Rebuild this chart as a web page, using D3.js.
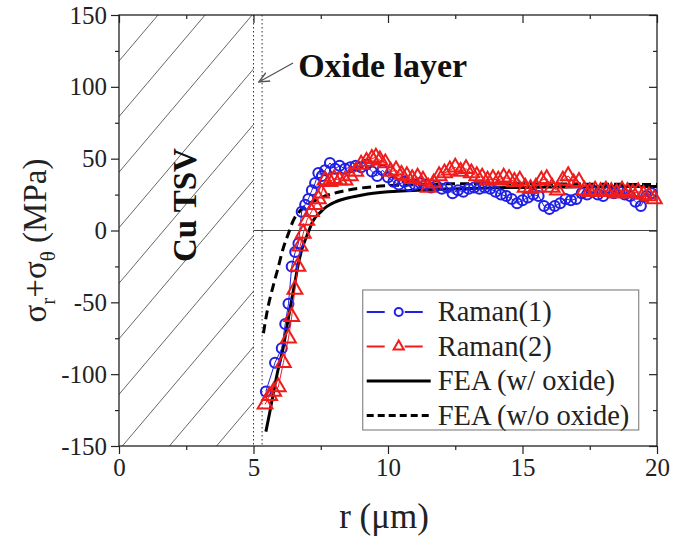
<!DOCTYPE html>
<html>
<head>
<meta charset="utf-8">
<script src="https://cdn.jsdelivr.net/npm/d3@7"></script>
<style>
  body { margin: 0; background: #fff; }
  svg text { font-family: 'Liberation Serif', 'Times New Roman', serif; }
</style>
</head>
<body>
<svg id="chart" width="679" height="537"></svg>
<script>
// Raman(1) measurement (blue circles)
const raman1R = [5.46, 5.8, 6.05, 6.18, 6.3, 6.42, 6.55, 6.67, 6.79, 6.92, 7.04, 7.17, 7.29, 7.41, 7.54, 7.66, 7.84, 8.03, 8.2, 8.4, 8.6, 8.8, 9.0, 9.2, 9.4, 9.6, 9.8, 10.0, 10.2, 10.4, 10.6, 10.8, 11.0, 11.2, 11.4, 11.6, 11.8, 12.0, 12.2, 12.4, 12.6, 12.8, 13.0, 13.2, 13.4, 13.6, 13.8, 14.0, 14.2, 14.4, 14.6, 14.8, 15.0, 15.2, 15.4, 15.6, 15.8, 16.0, 16.2, 16.4, 16.6, 16.8, 17.0, 17.2, 17.4, 17.6, 17.8, 18.0, 18.2, 18.4, 18.6, 18.8, 19.0, 19.2, 19.4, 19.6, 19.8];
const raman1V = [-112, -92, -82, -65, -51, -25, -15, -9, 13, 18, 22, 28, 33, 40, 38, 42, 47, 43, 45, 43, 44, 45, 44, 46, 41, 38, 42, 37, 34, 32, 34, 31, 32, 33, 32, 30, 31, 29, 30, 26, 28, 27, 29, 30, 29, 30, 29, 27, 25, 24, 22, 19, 21, 23, 25, 24, 17, 15, 17, 19, 22, 21, 22, 26, 25, 27, 25, 24, 27, 26, 27, 25, 24, 20, 17, 24, 26];

// Raman(2) measurement (red triangles)
const raman2R = [5.43, 5.6, 5.75, 5.92, 6.11, 6.3, 6.42, 6.54, 6.65, 6.73, 6.85, 6.98, 7.15, 7.29, 7.41, 7.53, 7.66, 7.84, 8.0, 8.2, 8.4, 8.6, 8.8, 9.0, 9.2, 9.4, 9.55, 9.7, 9.9, 10.1, 10.3, 10.5, 10.7, 10.9, 11.1, 11.3, 11.5, 11.7, 11.9, 12.1, 12.3, 12.5, 12.7, 12.9, 13.1, 13.3, 13.5, 13.7, 13.9, 14.1, 14.3, 14.5, 14.7, 14.9, 15.1, 15.3, 15.5, 15.7, 15.9, 16.1, 16.3, 16.5, 16.7, 16.9, 17.1, 17.3, 17.5, 17.7, 17.9, 18.1, 18.3, 18.5, 18.7, 18.9, 19.1, 19.3, 19.5, 19.7, 19.9];
const raman2V = [-121, -115, -112, -109, -92, -75, -60, -41, -25, -11, -2, 7, 13, 18, 22, 26, 35, 34, 36, 35, 35, 38, 41, 46, 48, 50, 51, 49, 47, 41, 42, 39, 38, 36, 37, 35, 30, 33, 38, 40, 42, 44, 41, 43, 40, 38, 37, 35, 36, 35, 37, 36, 34, 35, 30, 29, 30, 35, 36, 30, 28, 35, 38, 33, 34, 28, 27, 28, 27, 28, 27, 26, 28, 27, 26, 27, 25, 24, 22];

// FEA with oxide (solid)
const feaOxR = [5.46, 5.6, 5.74, 5.9, 6.11, 6.25, 6.42, 6.55, 6.67, 6.8, 7.0, 7.22, 7.5, 7.72, 8.0, 8.46, 9.0, 9.45, 10.0, 10.7, 11.93, 13, 14, 15, 16, 17, 18, 19, 20];
const feaOxV = [-140, -127, -113, -98, -81, -66, -48, -35, -23, -13, -3, 7, 13, 16.6, 19.5, 22.4, 24.5, 25.9, 27, 27.7, 28.7, 29.3, 29.7, 30, 30.2, 30.4, 30.5, 30.6, 30.7];

// FEA without oxide (dashed)
const feaNoR = [5.37, 5.5, 5.74, 5.9, 6.11, 6.3, 6.48, 6.7, 6.98, 7.3, 7.6, 8.22, 9.45, 10.7, 11.93, 13, 14, 15, 16, 17, 18, 19, 20];
const feaNoV = [-71.5, -57, -38, -27, -12, -2, 7, 13, 17.7, 21, 23.5, 27, 30.5, 31.7, 32.4, 32.6, 32.6, 32.5, 32.4, 32.3, 32.2, 32.1, 32];

const xTicks = [0, 5, 10, 15, 20];
const yTicks = [-150, -100, -50, 0, 50, 100, 150];
const legendLabels = ['Raman(1)', 'Raman(2)', 'FEA (w/ oxide)', 'FEA (w/o oxide)'];

const margin = { top: 15, left: 119 };
const width = 538;
const height = 431;
const blue = '#1f1fe6';
const red = '#f01c1c';
const serif = "'Liberation Serif', 'Times New Roman', serif";

const svg = d3.select('#chart');
const chart = svg.append('g').attr('transform', `translate(${margin.left},${margin.top})`);

const x = d3.scaleLinear().domain([0, 20]).range([0, width]);
const y = d3.scaleLinear().domain([-150, 150]).range([height, 0]);

// Hatched Cu TSV region
chart.append('clipPath').attr('id', 'cu').append('rect')
  .attr('x', x(0)).attr('y', y(150)).attr('width', x(5) - x(0)).attr('height', y(-150) - y(150));
const hatchSlope = 22.1; // MPa per um
chart.append('g').attr('clip-path', 'url(#cu)')
  .selectAll('line')
  .data(d3.range(-1, 11).map((k) => 1.45 + k * 1.75))
  .join('line')
  .attr('x1', (r0) => x(r0)).attr('y1', y(150))
  .attr('x2', (r0) => x(r0 - 300 / hatchSlope)).attr('y2', y(-150))
  .attr('stroke', '#555').attr('stroke-width', 0.9);

// Oxide layer boundaries
chart.selectAll('.oxide')
  .data([5, 5.32])
  .join('line')
  .attr('x1', (d) => x(d)).attr('x2', (d) => x(d))
  .attr('y1', 0).attr('y2', height)
  .attr('stroke', '#333').attr('stroke-width', 1).attr('stroke-dasharray', '1.5,2.5');

// zero line
chart.append('line')
  .attr('x1', x(5)).attr('x2', width).attr('y1', y(0)).attr('y2', y(0))
  .attr('stroke', '#444').attr('stroke-width', 1);

// Axes
const styleAxis = (g) => {
  g.select('.domain').remove();
  g.selectAll('.tick line').attr('stroke', '#222').attr('stroke-width', 1.2);
  g.selectAll('text').attr('font-family', serif).attr('font-size', 25).attr('fill', '#222');
};
const minorX = d3.range(2.5, 20, 5);
const minorY = d3.range(-125, 150, 50);
const fmt = (d) => String(d);

chart.append('g').attr('transform', `translate(0,${height})`)
  .call(d3.axisBottom(x).tickValues(xTicks).tickSize(8).tickPadding(4).tickFormat(fmt))
  .call(styleAxis);
chart.append('g').attr('transform', `translate(0,${height})`)
  .call(d3.axisBottom(x).tickValues(minorX).tickSize(4).tickFormat(''))
  .call(styleAxis);
chart.append('g')
  .call(d3.axisLeft(y).tickValues(yTicks).tickSize(8).tickPadding(4).tickFormat(fmt))
  .call(styleAxis);
chart.append('g')
  .call(d3.axisLeft(y).tickValues(minorY).tickSize(4).tickFormat(''))
  .call(styleAxis);
// mirrored inward ticks on top/right
chart.append('g')
  .call(d3.axisBottom(x).tickValues(xTicks).tickSize(8).tickFormat(''))
  .call(styleAxis);
chart.append('g')
  .call(d3.axisBottom(x).tickValues(minorX).tickSize(4).tickFormat(''))
  .call(styleAxis);
chart.append('g').attr('transform', `translate(${width},0)`)
  .call(d3.axisLeft(y).tickValues(yTicks).tickSize(8).tickFormat(''))
  .call(styleAxis);
chart.append('g').attr('transform', `translate(${width},0)`)
  .call(d3.axisLeft(y).tickValues(minorY).tickSize(4).tickFormat(''))
  .call(styleAxis);

chart.append('rect')
  .attr('width', width).attr('height', height)
  .attr('fill', 'none').attr('stroke', '#222').attr('stroke-width', 1.3);

// Curves
const zip = (a, b) => a.map((v, i) => [v, b[i]]);
const smooth = d3.line().x((d) => x(d[0])).y((d) => y(d[1])).curve(d3.curveMonotoneX);
const lin = d3.line().x((d) => x(d[0])).y((d) => y(d[1]));

chart.append('path').datum(zip(feaNoR, feaNoV)).attr('d', smooth)
  .attr('fill', 'none').attr('stroke', '#000').attr('stroke-width', 3).attr('stroke-dasharray', '9,5');
chart.append('path').datum(zip(feaOxR, feaOxV)).attr('d', smooth)
  .attr('fill', 'none').attr('stroke', '#000').attr('stroke-width', 3);

chart.append('path').datum(zip(raman1R, raman1V)).attr('d', lin)
  .attr('fill', 'none').attr('stroke', blue).attr('stroke-width', 1);
chart.append('g').selectAll('circle')
  .data(zip(raman1R, raman1V))
  .join('circle')
  .attr('cx', (d) => x(d[0])).attr('cy', (d) => y(d[1])).attr('r', 5)
  .attr('fill', 'none').attr('stroke', blue).attr('stroke-width', 2);

chart.append('path').datum(zip(raman2R, raman2V)).attr('d', lin)
  .attr('fill', 'none').attr('stroke', red).attr('stroke-width', 1);
const tri = d3.symbol().type(d3.symbolTriangle).size(95);
chart.append('g').selectAll('path')
  .data(zip(raman2R, raman2V))
  .join('path')
  .attr('d', tri)
  .attr('transform', (d) => `translate(${x(d[0])},${y(d[1])})`)
  .attr('fill', 'none').attr('stroke', red).attr('stroke-width', 2);

// Annotations
chart.append('text')
  .attr('transform', `translate(${x(2.45)},${y(17.7)}) rotate(-90)`)
  .attr('text-anchor', 'middle').attr('dominant-baseline', 'central')
  .attr('font-size', 33).attr('font-weight', 'bold').attr('fill', '#111')
  .text('Cu TSV');

svg.append('defs').append('marker')
  .attr('id', 'arrow').attr('viewBox', '0 0 10 10').attr('refX', 9).attr('refY', 5)
  .attr('markerWidth', 9).attr('markerHeight', 9).attr('orient', 'auto')
  .append('path').attr('d', 'M0,1 L9,5 L0,9').attr('fill', 'none').attr('stroke', '#555').attr('stroke-width', 1.2);
chart.append('line')
  .attr('x1', x(6.47)).attr('y1', y(116.6)).attr('x2', x(5.2)).attr('y2', y(103.4))
  .attr('stroke', '#555').attr('stroke-width', 1.3).attr('marker-end', 'url(#arrow)');
chart.append('text')
  .attr('x', x(6.66)).attr('y', y(106.8))
  .attr('font-size', 34).attr('font-weight', 'bold').attr('fill', '#111')
  .text('Oxide layer');

// Legend
const legend = chart.append('g').attr('transform', `translate(${x(9.06)},${y(-41.4)})`);
legend.append('rect').attr('width', 276).attr('height', 140)
  .attr('fill', '#fff').attr('stroke', '#888').attr('stroke-width', 1.2);
const rowY = (i) => 22 + i * 34.5;
const legendColors = [blue, red, '#000', '#000'];
legendLabels.forEach((label, i) => {
  const g = legend.append('g').attr('transform', `translate(0,${rowY(i)})`);
  g.append('line').attr('x1', 4).attr('x2', 68).attr('y1', 0).attr('y2', 0)
    .attr('stroke', legendColors[i]).attr('stroke-width', i < 2 ? 2 : 3)
    .attr('stroke-dasharray', i === 3 ? '7,4' : i < 2 ? '18,10,0,10,18' : null);
  if (i === 0) g.append('circle').attr('cx', 36).attr('r', 4).attr('fill', '#fff').attr('stroke', blue).attr('stroke-width', 2);
  if (i === 1) g.append('path').attr('d', d3.symbol().type(d3.symbolTriangle).size(45)).attr('transform', 'translate(36,0)').attr('fill', '#fff').attr('stroke', red).attr('stroke-width', 2);
  g.append('text').attr('x', 75).attr('y', 0).attr('dominant-baseline', 'central')
    .attr('font-size', 28.5).attr('fill', '#222').text(label);
});

// Axis titles
svg.append('text')
  .attr('x', margin.left + width / 2 - 4).attr('y', 528)
  .attr('text-anchor', 'middle').attr('font-size', 35).attr('fill', '#222')
  .text('r (\u03bcm)');

const yTitle = svg.append('text')
  .attr('transform', `translate(46,${margin.top + y(0) + 10}) rotate(-90)`)
  .attr('text-anchor', 'middle').attr('font-size', 33).attr('fill', '#222');
yTitle.append('tspan').text('\u03c3');
yTitle.append('tspan').attr('font-size', 21).attr('dy', 9).text('r');
yTitle.append('tspan').attr('dy', -9).text('+\u03c3');
yTitle.append('tspan').attr('font-size', 21).attr('dy', 9).text('\u03b8');
yTitle.append('tspan').attr('dy', -9).text(' (MPa)');
</script>
</body>
</html>
